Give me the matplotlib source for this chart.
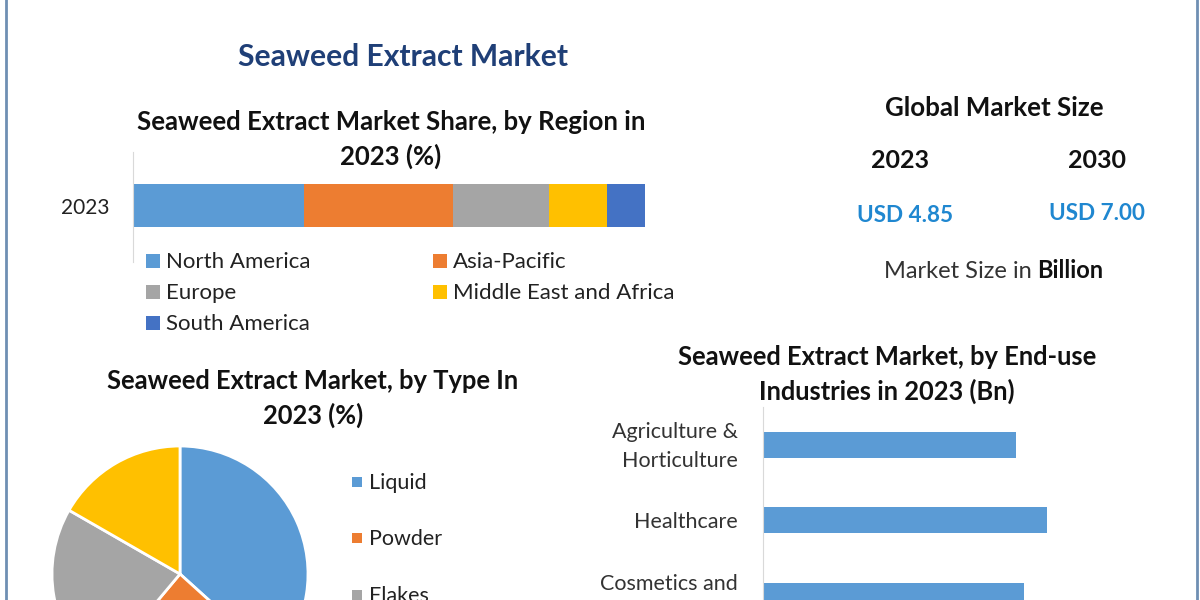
import matplotlib
matplotlib.use('Agg')
import matplotlib.pyplot as plt
from matplotlib.patches import Rectangle
from matplotlib.transforms import ScaledTranslation

plt.rcParams['font.family'] = ['Lato', 'DejaVu Sans']

W, H = 1200, 600

c_blue = '#5b9bd5'
c_orange = '#ed7d31'
c_grey = '#a5a5a5'
c_yellow = '#ffc000'
c_dblue = '#4472c4'

# region share, 2023 (%)
regions = ['North America', 'Asia-Pacific', 'Europe', 'Middle East and Africa', 'South America']
region_share = [33.4, 29.1, 18.8, 11.3, 7.4]
region_colors = [c_blue, c_orange, c_grey, c_yellow, c_dblue]

# type share, last one has its legend cut off in the picture
types = ['Liquid', 'Powder', 'Flakes']
type_share = [36.7, 24.4, 22.2, 16.7]
type_colors = [c_blue, c_orange, c_grey, c_yellow]

# end use (Bn), the rest of the chart is cut off
industries = ['Agriculture &\nHorticulture', 'Healthcare', 'Cosmetics and']
industry_vals = [1.28, 1.44, 1.32]

fig = plt.figure(figsize=(12, 6), dpi=100, facecolor='white')


def px_axes(x0, y0, x1, y1):
    # axes from pixel box, y counted from the top
    return fig.add_axes([x0 / W, 1 - y1 / H, (x1 - x0) / W, (y1 - y0) / H])


def label(x, y, s, size=16, color='#222222', weight='normal', ha='center'):
    fig.text(x / W, 1 - y / H, s, fontsize=size, color=color, fontweight=weight,
             ha=ha, va='center')


def swatch(x, y, size, color):
    fig.add_artist(Rectangle((x / W, 1 - (y + size / 2) / H), size / W, size / H,
                             transform=fig.transFigure, color=color, lw=0))


# frame
for fx in (5.5, 1197):
    fig.add_artist(plt.Line2D([fx / W, fx / W], [0, 1], color='#6f8fb3', lw=2))

# titles
label(403, 57, 'Seaweed Extract Market', size=21.6, color='#1f3f77', weight='bold')
label(391, 122, 'Seaweed Extract Market Share, by Region in', size=18.5, color='#111111', weight='bold')
label(391, 156, '2023 (%)', size=18.5, color='#111111', weight='bold')
label(313, 381, 'Seaweed Extract Market, by Type In', size=18.4, color='#111111', weight='bold')
label(313, 415, '2023 (%)', size=18.4, color='#111111', weight='bold')
label(887, 357, 'Seaweed Extract Market, by End-use', size=18.4, color='#111111', weight='bold')
label(887, 391, 'Industries in 2023 (Bn)', size=18.4, color='#111111', weight='bold')

# stacked bar
ax1 = px_axes(133, 152, 645, 262)
left = 0
for name, val, col in zip(regions, region_share, region_colors):
    ax1.barh(['2023'], [val], left=left, height=43 / 110, color=col, label=name)
    left += val
ax1.set_xlim(0, 100)
ax1.set_ylim(-56.5 / 110, 53.5 / 110)
ax1.set_xticks([])
ax1.tick_params(axis='y', length=0, labelsize=15, labelcolor='#222222', pad=17)
for s in ('top', 'right', 'bottom'):
    ax1.spines[s].set_visible(False)
ax1.spines['left'].set_color('#d9d9d9')

# region legend, two columns
leg_pos = [(146, 261), (433, 261), (146, 292), (433, 292), (146, 323)]
for (lx, ly), name, col in zip(leg_pos, regions, region_colors):
    swatch(lx, ly, 14, col)
    label(lx + 20, ly + 1, name, size=16, ha='left')

# pie, runs off the bottom of the image
ax2 = px_axes(52, 446, 308, 702)
ax2.pie(type_share, colors=type_colors, startangle=90, counterclock=False, radius=1,
        wedgeprops={'edgecolor': 'white', 'linewidth': 2})
ax2.set_xlim(-1, 1)
ax2.set_ylim(-1, 1)

for ly, name, col in zip((482, 538, 595), types, type_colors):
    swatch(352, ly, 10, col)
    label(369, ly + 1, name, size=15.5, ha='left')

# end-use bars
ax3 = px_axes(763, 407, 1150, 600)
ax3.barh(industries, industry_vals, height=26 / 75.5, color=c_blue)
ax3.set_ylim(193 / 75.5 - 0.5, -0.5)
ax3.set_xlim(0, 387 / 197.5)
ax3.set_xticks([])
ax3.tick_params(axis='y', length=0, labelsize=15.5, labelcolor='#333333', pad=18)
# tick labels sit a bit above the bar centres for the wrapped ones
for t, up in zip(ax3.get_yticklabels(), (5, 0, 14)):
    t.set_linespacing(1.55)
    t.set_transform(t.get_transform() + ScaledTranslation(0, up / 100, fig.dpi_scale_trans))
for s in ('top', 'right', 'bottom'):
    ax3.spines[s].set_visible(False)
ax3.spines['left'].set_color('#d9d9d9')

# market size block
label(994, 108, 'Global Market Size', size=18.6, color='#111111', weight='bold')
label(900, 161, '2023', size=18, color='#111111', weight='bold')
label(1097, 161, '2030', size=18, color='#111111', weight='bold')
label(905, 215, 'USD 4.85', size=16.2, color='#1f87d0', weight='bold')
label(1097, 213, 'USD 7.00', size=16.2, color='#1f87d0', weight='bold')
label(1032, 271, 'Market Size in', size=17, color='#333333', ha='right')
label(1037, 271, 'Billion', size=17, color='#111111', weight='bold', ha='left')

fig.savefig('out.png', dpi=100)
